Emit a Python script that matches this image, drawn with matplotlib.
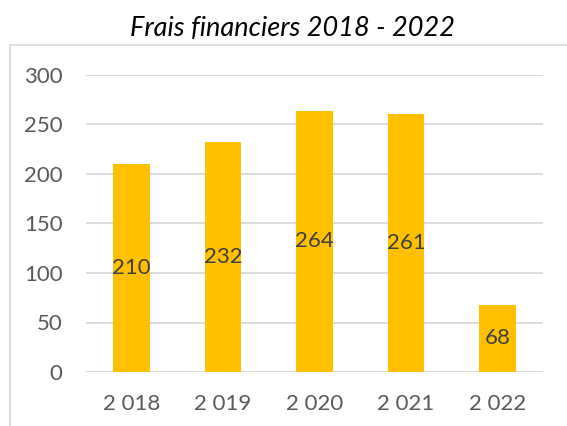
import matplotlib.pyplot as plt
from matplotlib.lines import Line2D

years = ['2 018', '2 019', '2 020', '2 021', '2 022']
values = [210, 232, 264, 261, 68]
y_ticks = [0, 50, 100, 150, 200, 250, 300]

plt.rcParams['font.family'] = ['Lato', 'DejaVu Sans']

W, H = 567, 426
fig = plt.figure(figsize=(W / 100, H / 100), dpi=100)
ax = fig.add_axes([86 / W, 1 - 372 / H, (543 - 86) / W, (372 - 75) / H])

x = range(len(values))
bars = ax.bar(x, values, width=0.4, color='#FFC000', zorder=3)
for xi, v in zip(x, values):
    ax.text(xi, v / 2, str(v), ha='center', va='center', fontsize=16, color='#404040', zorder=4)

ax.set_xlim(-0.5, len(values) - 0.5)
ax.set_ylim(0, 300)
ax.set_yticks(y_ticks)
ax.set_xticks(list(x))
ax.set_xticklabels(years)
ax.tick_params(axis='both', length=0, labelsize=16, labelcolor='#595959')
ax.tick_params(axis='y', pad=17)
ax.tick_params(axis='x', pad=16)
ax.yaxis.grid(True, color='#D9D9D9', linewidth=1.3, zorder=0)
for s in ax.spines.values():
    s.set_visible(False)

fig.text(292 / W, 1 - 36 / H, 'Frais financiers 2018 - 2022', ha='center', va='baseline',
         fontsize=19.5, style='italic', color='black')

# chart border (only top and left edges visible)
fig.add_artist(Line2D([10 / W, 1], [1 - 45 / H, 1 - 45 / H], color='#D9D9D9', linewidth=1.2))
fig.add_artist(Line2D([10 / W, 10 / W], [0, 1 - 45 / H], color='#D9D9D9', linewidth=1.2))

fig.savefig('out.png', dpi=100)
